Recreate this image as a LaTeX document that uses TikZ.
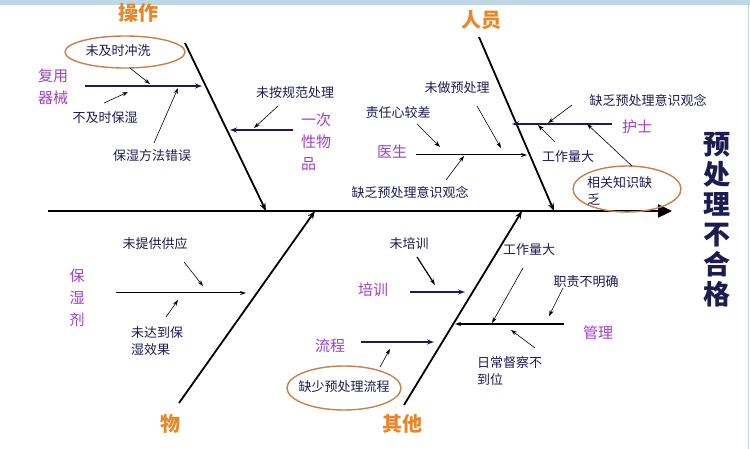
\documentclass[tikz,border=0pt]{standalone}
\usepackage{fontspec}
\setmainfont{Noto Sans CJK SC}
\usetikzlibrary{arrows.meta,shapes.geometric}
\definecolor{navy}{HTML}{1C1C50}
\definecolor{vio}{HTML}{A040C8}
\definecolor{org}{HTML}{E8862A}
\definecolor{ell}{HTML}{C8804A}
\definecolor{band}{HTML}{BFD6E6}
\begin{document}
\begin{tikzpicture}[x=1pt,y=-1pt,
  lbl/.style={font=\fontsize{13}{17}\selectfont, text=navy, inner sep=0pt, align=left},
  cat/.style={font=\fontsize{15}{22}\selectfont, text=vio, inner sep=0pt, align=left},
  ttl/.style={font=\fontsize{20}{22}\selectfont\bfseries, text=org, inner sep=0pt},
  bone/.style={line width=1.8pt, black, -{Stealth[length=8pt,width=6pt]}},
  br/.style={line width=1.6pt, navy, -{Stealth[length=7pt,width=5pt]}},
  thin/.style={line width=0.6pt, black, -{Stealth[length=6pt,width=4pt]}},
  ov/.style={draw=ell, line width=1.4pt, ellipse}]
\useasboundingbox (0,0) rectangle (750,449);
\fill[white] (0,0) rectangle (750,449);
\fill[band] (0,0) rectangle (750,5);
\draw[band, line width=1pt] (748,5) -- (748,449);
% spine
\coordinate (s0) at (48,211); \coordinate (s1) at (672,211);
\draw[line width=2.4pt, -{Triangle[length=14pt,width=13pt]}] (s0) -- (s1);
% effect
\node[font=\fontsize{27}{30}\selectfont\bfseries, text=navy, align=center, inner sep=0pt] (eff) at (717,220) {预\\处\\理\\不\\合\\格};
% titles
\node[ttl] (t1) at (138,13) {操作};
\node[ttl] (t2) at (481,20) {人员};
\node[ttl] (t3) at (170,424) {物};
\node[ttl] (t4) at (402,424) {其他};
% main bones
\coordinate (b1a) at (185,43); \coordinate (b1b) at (266,211);
\coordinate (b2a) at (479,37); \coordinate (b2b) at (554,211);
\coordinate (b3a) at (179,403); \coordinate (b3b) at (315,211);
\coordinate (b4a) at (404,405); \coordinate (b4b) at (522,211);
\draw[bone] (b1a) -- (b1b);
\draw[bone] (b2a) -- (b2b);
\draw[bone] (b3a) -- (b3b);
\draw[bone] (b4a) -- (b4b);
% ---- 操作
\node[ov, minimum width=120pt, minimum height=32pt, inner sep=0pt] (e1) at (125,52) {};
\node[lbl] (l1) at (118,51) {未及时冲洗};
\node[cat] (c1) at (53,87) {复用\\器械};
\coordinate (r1a) at (85,86); \coordinate (r1b) at (202,86);
\draw[br] (r1a) -- (r1b);
\coordinate (a1) at (130,68); \coordinate (a1e) at (150,84);
\draw[thin] (a1) -- (a1e);
\node[lbl] (l2) at (105,118) {不及时保湿};
\coordinate (a2) at (104,103); \coordinate (a2e) at (128,92);
\draw[thin] (a2) -- (a2e);
\node[lbl] (l3) at (152,156) {保湿方法错误};
\coordinate (a3) at (154,143); \coordinate (a3e) at (178,88);
\draw[thin] (a3) -- (a3e);
\node[lbl] (l4) at (295,93) {未按规范处理};
\coordinate (a4) at (278,106); \coordinate (a4e) at (254,128);
\draw[thin] (a4) -- (a4e);
\coordinate (r2a) at (293,130); \coordinate (r2b) at (230,130);
\draw[br] (r2a) -- (r2b);
\node[cat, anchor=west] (c2) at (301,142) {一次\\性物\\品};
% ---- 人员
\node[lbl] (l5) at (457,88) {未做预处理};
\coordinate (a5) at (477,106); \coordinate (a5e) at (501,148);
\draw[thin] (a5) -- (a5e);
\node[lbl] (l6) at (398,113) {责任心较差};
\coordinate (a6) at (417,124); \coordinate (a6e) at (440,147);
\draw[thin] (a6) -- (a6e);
\node[cat] (c3) at (392,152) {医生};
\coordinate (r3a) at (416,155); \coordinate (r3b) at (527,155);
\draw[thin, line width=1pt] (r3a) -- (r3b);
\node[lbl] (l7) at (410,192) {缺乏预处理意识观念};
\coordinate (a7) at (446,180); \coordinate (a7e) at (464,156);
\draw[thin] (a7) -- (a7e);
\coordinate (r4a) at (612,124); \coordinate (r4b) at (512,124);
\draw[br, line width=1.2pt] (r4a) -- (r4b);
\node[cat] (c4) at (637,127) {护士};
\node[lbl] (l8) at (648,100) {缺乏预处理意识观念};
\coordinate (a8) at (572,105); \coordinate (a8e) at (548,123);
\draw[thin] (a8) -- (a8e);
\node[lbl] (l9) at (568,157) {工作量大};
\coordinate (a9) at (555,142); \coordinate (a9e) at (538,125);
\draw[thin] (a9) -- (a9e);
\node[ov, minimum width=108pt, minimum height=46pt, inner sep=0pt] (e2) at (627,189) {};
\node[lbl, anchor=west] (l10) at (587,191) {相关知识缺\\乏};
\coordinate (a10) at (632,166); \coordinate (a10e) at (587,124);
\draw[thin] (a10) -- (a10e);
% ---- 物
\node[cat] (c5) at (77,298) {保\\湿\\剂};
\coordinate (r5a) at (116,293); \coordinate (r5b) at (246,293);
\draw[thin, line width=1pt] (r5a) -- (r5b);
\node[lbl] (l11) at (155,244) {未提供供应};
\coordinate (a11) at (184,262); \coordinate (a11e) at (203,286);
\draw[thin] (a11) -- (a11e);
\node[lbl, anchor=west] (l12) at (131,341) {未达到保\\湿效果};
\coordinate (a12) at (166,317); \coordinate (a12e) at (178,300);
\draw[thin] (a12) -- (a12e);
% ---- 其他
\node[lbl] (l13) at (409,244) {未培训};
\coordinate (a13) at (417,257); \coordinate (a13e) at (435,285);
\draw[thin, line width=1.2pt] (a13) -- (a13e);
\node[cat] (c6) at (373,290) {培训};
\coordinate (r6a) at (410,292); \coordinate (r6b) at (465,292);
\draw[br] (r6a) -- (r6b);
\node[lbl] (l14) at (529,250) {工作量大};
\coordinate (a14) at (523,268); \coordinate (a14e) at (492,323);
\draw[thin] (a14) -- (a14e);
\node[lbl] (l15) at (586,282) {职责不明确};
\coordinate (a15) at (563,288); \coordinate (a15e) at (549,316);
\draw[thin] (a15) -- (a15e);
\node[cat] (c7) at (598,333) {管理};
\coordinate (r7a) at (564,324); \coordinate (r7b) at (455,324);
\draw[thin, line width=1.2pt] (r7a) -- (r7b);
\node[lbl, anchor=west] (l16) at (477,371) {日常督察不\\到位};
\coordinate (a16) at (535,348); \coordinate (a16e) at (511,330);
\draw[thin] (a16) -- (a16e);
\node[cat] (c8) at (330,346) {流程};
\coordinate (r8a) at (361,342); \coordinate (r8b) at (434,342);
\draw[br, line width=1.2pt] (r8a) -- (r8b);
\node[ov, minimum width=114pt, minimum height=44pt, inner sep=0pt] (e3) at (344,388) {};
\node[lbl] (l17) at (344,387) {缺少预处理流程};
\coordinate (a17) at (380,367); \coordinate (a17e) at (390,349);
\draw[thin] (a17) -- (a17e);
\end{tikzpicture}
\end{document}
